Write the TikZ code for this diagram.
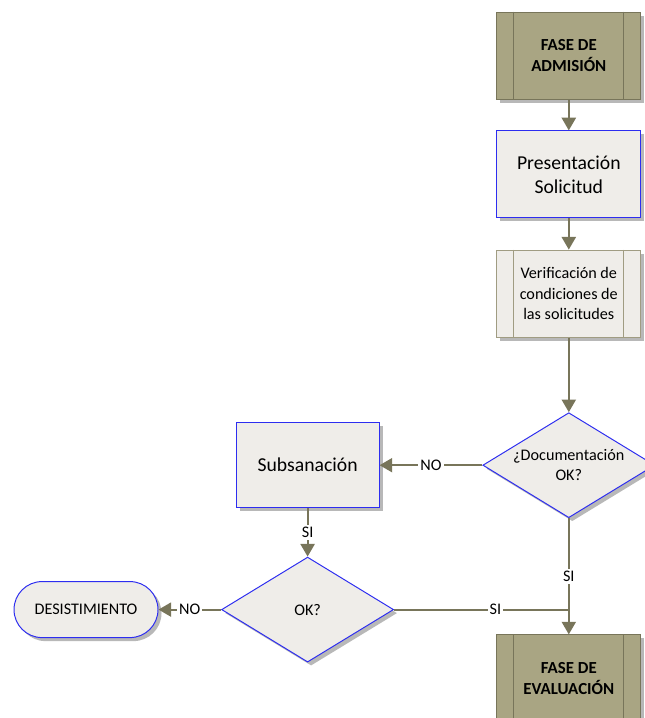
\documentclass[tikz,border=0pt]{standalone}
\usepackage{fontspec}
\setmainfont{Carlito}
\usetikzlibrary{shapes.geometric,arrows.meta,shadows}
\definecolor{olivefill}{RGB}{169,165,131}
\definecolor{oliveline}{RGB}{120,117,90}
\definecolor{boxfill}{RGB}{239,237,233}
\definecolor{boxblue}{RGB}{45,45,240}
\definecolor{procline}{RGB}{160,156,130}

\begin{document}
\begin{tikzpicture}[
    boxshadow/.style={drop shadow={shadow xshift=2.5pt, shadow yshift=-2.5pt, fill=black!28, opacity=1}},
    fase/.style={rectangle, draw=oliveline, line width=0.7pt, fill=olivefill, boxshadow, minimum width=3.6cm, minimum height=2.175cm, align=center, font=\fontsize{12}{15}\selectfont\bfseries},
    proc/.style={rectangle, draw=boxblue, line width=0.7pt, fill=boxfill, boxshadow, minimum width=3.6cm, minimum height=2.175cm, align=center, font=\fontsize{14}{17}\selectfont},
    predef/.style={rectangle, draw=procline, line width=0.7pt, fill=boxfill, boxshadow, minimum width=3.6cm, minimum height=2.175cm, align=center, font=\fontsize{11.5}{14.5}\selectfont},
    decision/.style={diamond, aspect=1.64, draw=boxblue, line width=0.7pt, fill=boxfill, boxshadow, inner sep=0pt, minimum width=4.3cm, minimum height=2.625cm, align=center, font=\fontsize{11.5}{14.5}\selectfont},
    term/.style={rectangle, rounded corners=0.7cm, draw=boxblue, line width=0.7pt, fill=boxfill, boxshadow, minimum width=3.6cm, minimum height=1.4cm, font=\fontsize{11.5}{13}\selectfont},
    link/.style={draw=oliveline, line width=1.5pt},
    flow/.style={link, -{Triangle[width=10pt,length=9pt]}},
    lbl/.style={fill=white, inner sep=1.5pt, font=\fontsize{11.5}{13}\selectfont}
  ]
    \useasboundingbox (0, 0) rectangle (16.1, 17.95);
    \node[fase] (adm) at (14.22, 16.56) {FASE DE\\ADMISIÓN};
    \node[proc] (pres) at (14.22, 13.59) {Presentación\\Solicitud};
    \node[predef] (ver) at (14.22, 10.61) {Verificación de\\condiciones de\\las solicitudes};
    \node[decision] (doc) at (14.22, 6.32) {¿Documentación\\OK?};
    \node[proc, minimum width=3.575cm, minimum height=2.125cm] (sub) at (7.69, 6.32) {Subsanación};
    \node[decision] (ok) at (7.69, 2.71) {OK?};
    \node[term] (des) at (2.15, 2.71) {DESISTIMIENTO};
    \node[fase] (eva) at (14.22, 0.99) {FASE DE\\EVALUACIÓN};
    \foreach \n/\c in {adm/oliveline, ver/procline, eva/oliveline} {
      \draw[\c, line width=0.7pt] ([xshift=0.43cm]\n.north west) -- ([xshift=0.43cm]\n.south west);
      \draw[\c, line width=0.7pt] ([xshift=-0.45cm]\n.north east) -- ([xshift=-0.45cm]\n.south east);
    }
    \draw[flow] (adm) -- (pres);
    \draw[flow] (pres) -- (ver);
    \draw[flow] (ver) -- (doc);
    \draw[flow] (doc) -- node[lbl] {NO} (sub);
    \draw[flow] (sub) -- node[lbl] {SI} (ok);
    \draw[flow] (ok) -- node[lbl] {NO} (des);
    \draw[flow] (doc) -- node[lbl] {SI} (eva);
    \coordinate (join) at (doc.south |- ok.east);
    \draw[link] (ok) -- node[lbl, pos=0.58] {SI} (join);
  \end{tikzpicture}
\end{document}
